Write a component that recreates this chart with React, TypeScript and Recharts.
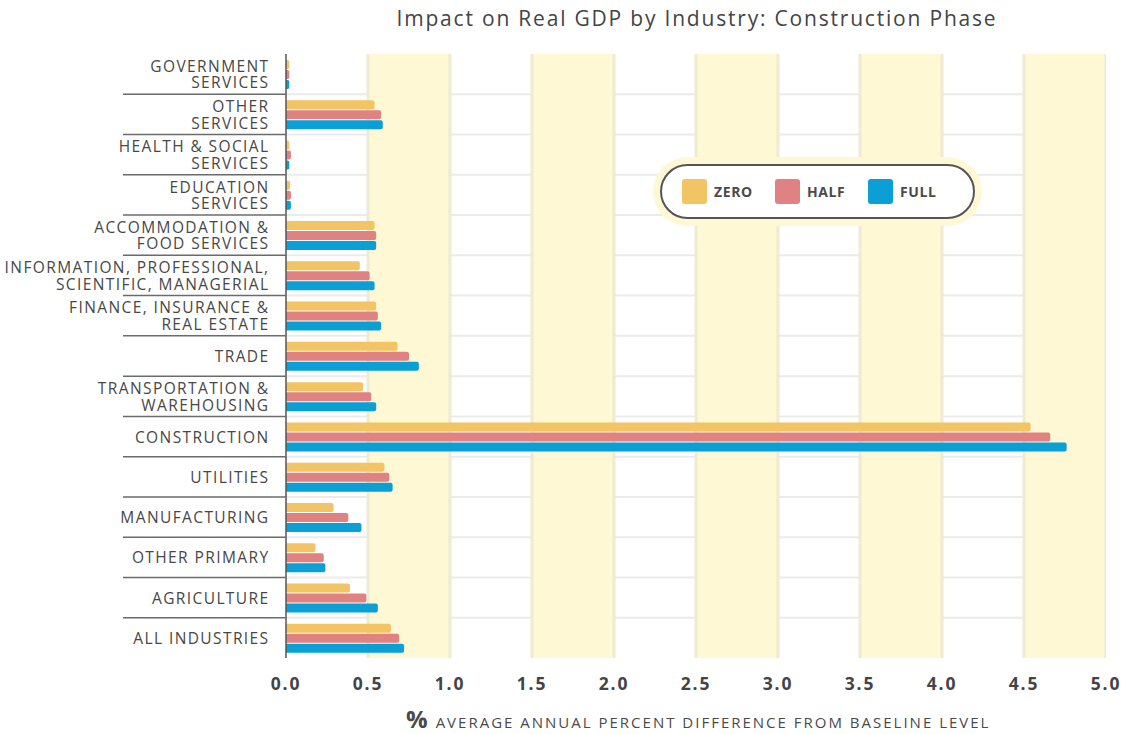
import { BarChart, Bar, XAxis, YAxis, CartesianGrid, ReferenceArea } from "recharts";

const industries = [
  "GOVERNMENT\nSERVICES",
  "OTHER\nSERVICES",
  "HEALTH & SOCIAL\nSERVICES",
  "EDUCATION\nSERVICES",
  "ACCOMMODATION &\nFOOD SERVICES",
  "INFORMATION, PROFESSIONAL,\nSCIENTIFIC, MANAGERIAL",
  "FINANCE, INSURANCE &\nREAL ESTATE",
  "TRADE",
  "TRANSPORTATION &\nWAREHOUSING",
  "CONSTRUCTION",
  "UTILITIES",
  "MANUFACTURING",
  "OTHER PRIMARY",
  "AGRICULTURE",
  "ALL INDUSTRIES",
];

const zero = [0.02, 0.54, 0.02, 0.025, 0.54, 0.45, 0.55, 0.68, 0.47, 4.54, 0.6, 0.29, 0.18, 0.39, 0.64];
const half = [0.02, 0.58, 0.03, 0.03, 0.55, 0.51, 0.56, 0.75, 0.52, 4.66, 0.63, 0.38, 0.23, 0.49, 0.69];
const full = [0.02, 0.59, 0.02, 0.03, 0.55, 0.54, 0.58, 0.81, 0.55, 4.76, 0.65, 0.46, 0.24, 0.56, 0.72];

const xTicks = [0, 0.5, 1, 1.5, 2, 2.5, 3, 3.5, 4, 4.5, 5];
const bands = [
  [0.5, 1],
  [1.5, 2],
  [2.5, 3],
  [3.5, 4],
  [4.5, 5],
];

const series = [
  { key: "zero", name: "ZERO", color: "#F2C463" },
  { key: "half", name: "HALF", color: "#E08182" },
  { key: "full", name: "FULL", color: "#0A9FD5" },
];

const data = industries.map((name, i) => ({ name, zero: zero[i], half: half[i], full: full[i] }));

const W = 1122;
const H = 734;
const TOP = 54;
const PLOT_H = 604;
const ROW_H = PLOT_H / industries.length;
const FONT = "'Open Sans', 'DejaVu Sans', sans-serif";

function IndustryTick(props: any) {
  const { y, payload, index } = props;
  const lines = String(payload.value).split("\n");
  const top = y - ((lines.length - 1) * 16.5) / 2;
  return (
    <g>
      {index > 0 && (
        <line x1={123} x2={286} y1={y - ROW_H / 2} y2={y - ROW_H / 2} stroke="#6b6b6b" strokeWidth={1.5} />
      )}
      {lines.map((l, k) => (
        <text
          key={k}
          x={269.5}
          y={top + k * 16.5}
          textAnchor="end"
          dominantBaseline="central"
          fontSize={15.5}
          fill="#474747"
          fontFamily={FONT}
          letterSpacing={1.4}
        >
          {l}
        </text>
      ))}
    </g>
  );
}

function LegendBox() {
  return (
    <div
      style={{
        position: "absolute",
        left: 653,
        top: 157,
        background: "#FFF8D5",
        borderRadius: 36,
        padding: 7,
        width: 315,
        fontFamily: FONT,
      }}
    >
      <div
        style={{
          background: "#fff",
          border: "2px solid #555",
          borderRadius: 28,
          height: 51,
          display: "flex",
          alignItems: "center",
          paddingLeft: 20,
        }}
      >
        {series.map((s) => (
          <div key={s.key} style={{ display: "flex", alignItems: "center", width: 93 }}>
            <div style={{ width: 25, height: 25, borderRadius: 3, background: s.color }} />
            <span style={{ marginLeft: 7, fontSize: 14, fontWeight: 700, color: "#4a4a4a", letterSpacing: 0.6 }}>{s.name}</span>
          </div>
        ))}
      </div>
    </div>
  );
}

export default function App() {
  return (
    <div style={{ position: "absolute", left: 0, top: 0, width: W, height: H, background: "#fff", fontFamily: FONT }}>
      <div
        style={{
          position: "absolute",
          top: 4,
          left: 280,
          width: 834,
          textAlign: "center",
          fontSize: 21,
          color: "#444",
          letterSpacing: 1.8,
          whiteSpace: "nowrap",
        }}
      >
        Impact on Real GDP by Industry: Construction Phase
      </div>
      <BarChart
        width={W}
        height={H}
        data={data}
        layout="vertical"
        margin={{ top: TOP, right: 16, left: 0, bottom: H - TOP - PLOT_H - 40 }}
        barSize={9}
        barGap={1}
      >
        {bands.map(([a, b]) => (
          <ReferenceArea key={a} x1={a} x2={b} fill="#FFF8D5" fillOpacity={1} stroke="none" ifOverflow="hidden" />
        ))}
        {bands.flat().map((v) => (
          <ReferenceArea key={"e" + v} x1={v - 0.009} x2={v + 0.009} fill="#EFEBD2" fillOpacity={1} stroke="none" ifOverflow="hidden" />
        ))}
        <CartesianGrid
          vertical={false}
          stroke="#ebebeb"
          strokeWidth={2}
          horizontalCoordinatesGenerator={({ offset }: any) =>
            industries.slice(1).map((_, i) => offset.top + ((i + 1) * offset.height) / industries.length)
          }
        />
        <XAxis
          type="number"
          domain={[0, 5]}
          allowDataOverflow
          ticks={xTicks}
          tickFormatter={(v: number) => v.toFixed(1)}
          axisLine={false}
          tickLine={false}
          height={40}
          tick={{ fontSize: 17.5, fontWeight: 700, fill: "#444", fontFamily: FONT, letterSpacing: 1.8 }}
          dy={12}
        />
        <YAxis
          type="category"
          dataKey="name"
          width={286}
          axisLine={{ stroke: "#555", strokeWidth: 1.5 }}
          tickLine={false}
          interval={0}
          tick={<IndustryTick />}
        />
        {series.map((s) => (
          <Bar key={s.key} dataKey={s.key} name={s.name} fill={s.color} radius={[0, 2, 2, 0]} isAnimationActive={false} />
        ))}
      </BarChart>
      <LegendBox />
      <div
        style={{
          position: "absolute",
          top: 706,
          left: 406,
          height: 26,
          lineHeight: "26px",
          whiteSpace: "nowrap",
          color: "#4a4a4a",
          display: "flex",
          alignItems: "baseline",
        }}
      >
        <span style={{ fontSize: 24, fontWeight: 700, marginRight: 8 }}>%</span>
        <span style={{ fontSize: 15, letterSpacing: 2 }}>AVERAGE ANNUAL PERCENT DIFFERENCE FROM BASELINE LEVEL</span>
      </div>
    </div>
  );
}
